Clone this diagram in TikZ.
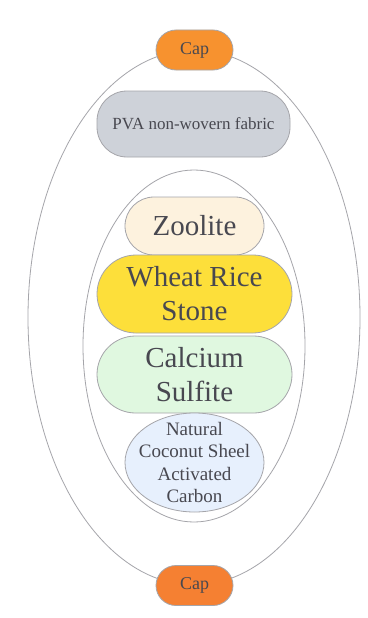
\documentclass[tikz,border=0pt]{standalone}
\usepackage{fontspec}
\setmainfont{Liberation Serif}
\usetikzlibrary{shapes.geometric}
\definecolor{txt}{RGB}{72,72,80}
\definecolor{edge}{RGB}{165,165,170}
\definecolor{capA}{RGB}{247,146,47}
\definecolor{capB}{RGB}{245,128,50}
\definecolor{pvaC}{RGB}{206,210,217}
\definecolor{zooC}{RGB}{253,242,222}
\definecolor{wheatC}{RGB}{253,223,58}
\definecolor{calcC}{RGB}{224,248,224}
\definecolor{cocoC}{RGB}{231,240,253}
\tikzset{
  ring/.style={draw=edge, line width=0.8pt},
  pill/.style={draw=edge, line width=0.8pt, text=txt, align=center, inner sep=0pt, rectangle},
}
\begin{document}
\begin{tikzpicture}[x=1pt,y=-1pt]
\useasboundingbox[fill=white] (0,0) rectangle (367,618);
\node[ring, ellipse, minimum width=332pt, minimum height=535pt, inner sep=0pt] (outer) at (194,317.5) {};
\node[ring, ellipse, minimum width=222pt, minimum height=352pt, inner sep=0pt] (inner) at (194,346) {};
\node[pill, fill=capA, minimum width=77pt, minimum height=40pt, rounded corners=20pt, font=\fontsize{18}{20}\selectfont] (captop) at (194.5,50) {Cap};
\node[pill, fill=capB, minimum width=77pt, minimum height=40pt, rounded corners=20pt, font=\fontsize{18}{20}\selectfont] (capbot) at (194.5,585.5) {Cap};
\node[pill, fill=pvaC, minimum width=193pt, minimum height=66pt, rounded corners=30pt, font=\fontsize{17}{20}\selectfont] (pva) at (193.5,124) {PVA non-wovern fabric};
\node[pill, fill=zooC, minimum width=139pt, minimum height=58pt, rounded corners=29pt, font=\fontsize{29}{34}\selectfont] (zoo) at (194.5,226) {Zoolite};
\node[pill, fill=wheatC, minimum width=195pt, minimum height=78pt, rounded corners=39pt, font=\fontsize{29}{34}\selectfont] (wheat) at (194.5,294) {Wheat Rice\\Stone};
\node[pill, fill=calcC, minimum width=195pt, minimum height=77pt, rounded corners=38.5pt, font=\fontsize{29}{34}\selectfont] (calc) at (194.5,374.5) {Calcium\\Sulfite};
\node[draw=edge, line width=0.8pt, inner sep=0pt, ellipse, fill=cocoC, minimum width=139pt, minimum height=99pt] (coco) at (194.5,462.5) {};
\node[text=txt, align=center, inner sep=0pt, font=\fontsize{19}{22.5}\selectfont] (cocotext) at (coco.center) {Natural\\Coconut Sheel\\Activated\\Carbon};
\end{tikzpicture}
\end{document}
